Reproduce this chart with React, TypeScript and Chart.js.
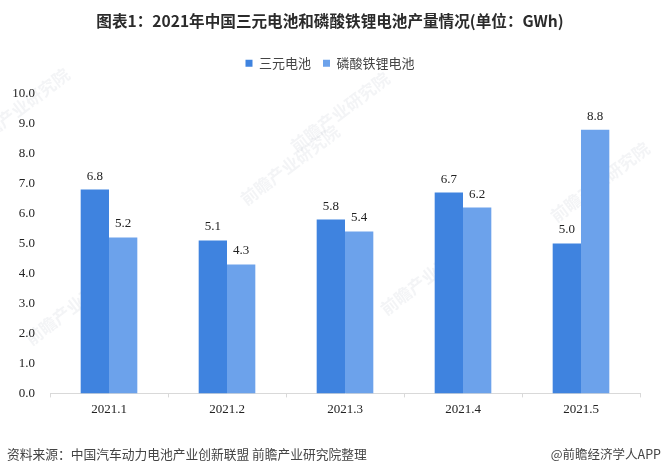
import { useEffect, useRef } from 'react';
import { Chart, registerables } from 'chart.js';

Chart.register(...registerables);

const months = ['2021.1', '2021.2', '2021.3', '2021.4', '2021.5'];
const ternary = [6.8, 5.1, 5.8, 6.7, 5.0];
const lfp = [5.2, 4.3, 5.4, 6.2, 8.8];

const TITLE = '图表1：2021年中国三元电池和磷酸铁锂电池产量情况(单位：GWh)';
const SOURCE = '资料来源：中国汽车动力电池产业创新联盟 前瞻产业研究院整理';
const CREDIT = '@前瞻经济学人APP';

const SERIF = '"Liberation Serif", serif';
const SANS = '"Noto Sans CJK SC", sans-serif';

// [x, y] of each faint diagonal watermark
const watermarks = [
  [20, 108],
  [340, 112],
  [75, 305],
  [430, 275],
  [600, 182],
  [290, 165],
];

const watermarkPlugin = {
  id: 'watermark',
  beforeDraw(chart: any) {
    const { ctx } = chart;
    ctx.save();
    ctx.fillStyle = 'rgba(120,130,150,0.09)';
    ctx.font = `bold 17px ${SANS}`;
    ctx.textAlign = 'center';
    ctx.textBaseline = 'middle';
    for (const [x, y] of watermarks) {
      ctx.save();
      ctx.translate(x, y);
      ctx.rotate(-0.65);
      ctx.fillText('前瞻产业研究院', 0, 0);
      ctx.restore();
    }
    ctx.restore();
  },
};

const valueLabels = {
  id: 'valueLabels',
  afterDatasetsDraw(chart: any) {
    const { ctx } = chart;
    ctx.save();
    ctx.fillStyle = '#222';
    ctx.font = `13px ${SERIF}`;
    ctx.textAlign = 'center';
    ctx.textBaseline = 'bottom';
    chart.data.datasets.forEach((ds: any, i: number) => {
      chart.getDatasetMeta(i).data.forEach((bar: any, j: number) => {
        ctx.fillText(ds.data[j].toFixed(1), bar.x, bar.y - 7);
      });
    });
    ctx.restore();
  },
};

// legend has no margin option, so grow its box to push the plot down;
// title and legend also sit a little right of the layout's centre
const headerTweaks = {
  id: 'headerTweaks',
  beforeInit(chart: any) {
    const fit = chart.legend.fit;
    chart.legend.fit = function () {
      fit.call(this);
      this.height += 14;
    };
  },
  afterLayout(chart: any) {
    for (const box of [chart.titleBlock, chart.legend]) {
      box.left += 5;
      box.right += 5;
    }
  },
};

export default function App() {
  const ref = useRef<HTMLCanvasElement>(null);

  useEffect(() => {
    if (!ref.current) return;
    const chart = new Chart(ref.current, {
      type: 'bar',
      data: {
        labels: months,
        datasets: [
          { label: '三元电池', data: ternary, backgroundColor: '#3F83DF' },
          { label: '磷酸铁锂电池', data: lfp, backgroundColor: '#6CA2EB' },
        ],
      },
      plugins: [watermarkPlugin, valueLabels, headerTweaks],
      options: {
        animation: false,
        responsive: false,
        layout: { padding: { top: 12, left: 10, right: 22, bottom: 53 } },
        datasets: { bar: { categoryPercentage: 0.48, barPercentage: 1 } },
        plugins: {
          title: {
            display: true,
            text: TITLE,
            color: '#2b2b2b',
            font: { family: SANS, size: 15.6, weight: 'bold' },
            padding: { top: 0, bottom: 14 },
          },
          legend: {
            display: true,
            position: 'top',
            labels: {
              boxWidth: 7,
              boxHeight: 7,
              color: '#444',
              font: { family: SANS, size: 13 },
              padding: 12,
            },
          },
          tooltip: { enabled: false },
        },
        scales: {
          x: {
            grid: { drawOnChartArea: false, color: '#d9d9d9', tickLength: 4 },
            border: { color: '#d9d9d9' },
            ticks: { color: '#222', font: { family: SERIF, size: 13 }, padding: 4 },
          },
          y: {
            min: 0,
            max: 10,
            afterFit(scale: any) {
              scale.width = 40;
            },
            grid: { display: false },
            border: { display: false },
            ticks: {
              stepSize: 1,
              color: '#222',
              font: { family: SERIF, size: 13 },
              padding: 7,
              callback: (v: any) => Number(v).toFixed(1),
            },
          },
        },
      },
    } as any);
    return () => chart.destroy();
  }, []);

  return (
    <div style={{ position: 'absolute', left: 0, top: 0, width: 662, height: 474, background: '#fff', overflow: 'hidden' }}>
      <canvas ref={ref} width={662} height={474} style={{ display: 'block' }} />
      <div style={{ position: 'absolute', left: 7, top: 444, fontFamily: SANS, fontSize: 12.75, color: '#444', whiteSpace: 'nowrap' }}>
        {SOURCE}
      </div>
      <div style={{ position: 'absolute', right: 1, top: 444, fontFamily: SANS, fontSize: 12.5, color: '#444', whiteSpace: 'nowrap' }}>
        {CREDIT}
      </div>
    </div>
  );
}
